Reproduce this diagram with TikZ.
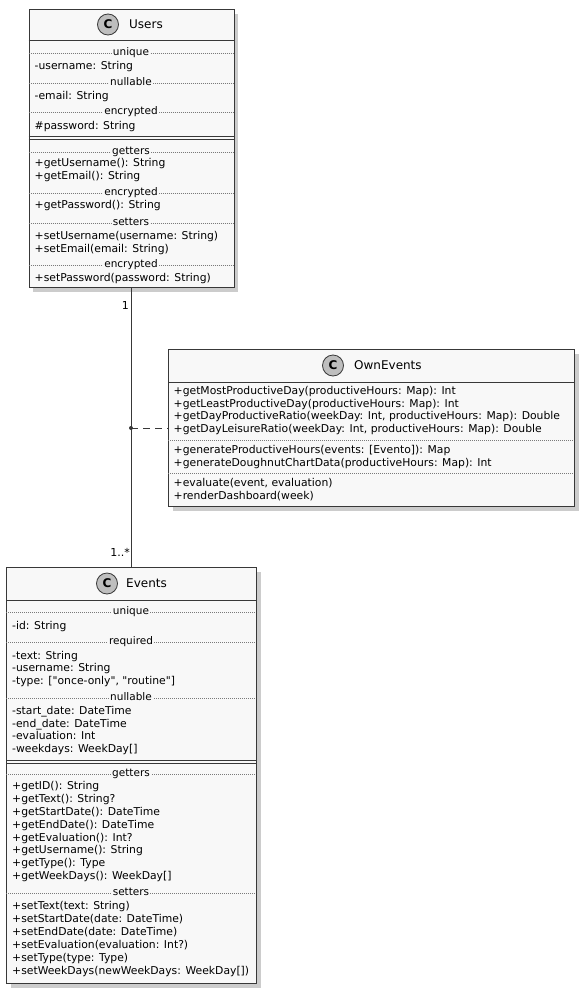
\documentclass[tikz,border=0pt]{standalone}
\usepackage{fontspec}
\setmainfont{DejaVu Sans}
\usetikzlibrary{shadows,positioning}
\definecolor{umlborder}{HTML}{383838}
\definecolor{umlfill}{HTML}{F8F8F8}
\definecolor{umlcircle}{HTML}{BEBEBE}
\definecolor{umlsep}{HTML}{7A7A7A}
\tikzset{
  classbox/.style={draw=umlborder,fill=umlfill,line width=1.2pt,anchor=north west,inner sep=0pt,drop shadow={shadow xshift=4pt,shadow yshift=-4pt,fill=black!40,opacity=.5}},
  classline/.style={draw=umlborder,line width=1pt},
  doubleline/.style={draw=umlborder,line width=.7pt},
  classicon/.style={circle,draw=umlborder,fill=umlcircle,line width=.8pt,minimum size=21pt,inner sep=0pt,font=\fontsize{12}{12}\selectfont\bfseries},
  classname/.style={anchor=west,inner sep=0pt,font=\fontsize{12}{14}\selectfont},
  member/.style={anchor=west,inner sep=0pt,text height=7.5pt,text depth=2pt,font=\fontsize{10.8}{13}\selectfont},
  sepline/.style={draw=umlsep,line width=.5pt,dash pattern=on 1pt off 1pt},
  seplabel/.style={fill=umlfill,inner xsep=1pt,inner ysep=0pt,text height=7.5pt,text depth=2pt,font=\fontsize{10.5}{12}\selectfont},
  assocline/.style={draw=umlborder,line width=1pt},
  assocdash/.style={draw=umlborder,line width=1pt,dash pattern=on 7pt off 5pt},
  mult/.style={anchor=east,inner sep=0pt,font=\fontsize{11}{13}\selectfont},
}
% separator: x1, x2, y, label, name
\newcommand{\umlsep}[5]{\draw[sepline] (#1,#3) -- (#2,#3); \node[seplabel] (#5) at ({(#1+#2)/2},#3) {#4};}
\begin{document}
\begin{tikzpicture}[x=1pt,y=-1pt]
\useasboundingbox (0,0) rectangle (584,990);

% Users
\node[classbox,minimum width=205pt,minimum height=278pt] (users) at (28.5,9) {};
\draw[classline] (28.5,41) -- (233.5,41);
\node[classicon] (users-icon) at (108,24.5) {C};
\node[classname] (users-name) at (129,24.5) {Users};
\umlsep{28.5}{233.5}{53}{unique}{users-s1}
\umlsep{28.5}{233.5}{83}{nullable}{users-s2}
\umlsep{28.5}{233.5}{112}{encrypted}{users-s3}
\foreach \n/\y/\t in {a1/67/{-username: String},a2/97/{-email: String},a3/127/{\#password: String}}
  \node[member] (users-\n) at (34.5,\y) {\t};
\draw[doubleline] (28.5,136.5) -- (233.5,136.5) (28.5,139) -- (233.5,139);
\umlsep{28.5}{233.5}{152}{getters}{users-s4}
\umlsep{28.5}{233.5}{193}{encrypted}{users-s5}
\umlsep{28.5}{233.5}{223}{setters}{users-s6}
\umlsep{28.5}{233.5}{265}{encrypted}{users-s7}
\foreach \n/\y/\t in {m1/164/{+getUsername(): String},m2/177/{+getEmail(): String},m3/206/{+getPassword(): String},m4/237/{+setUsername(username: String)},m5/249.5/{+setEmail(email: String)},m6/279/{+setPassword(password: String)}}
  \node[member] (users-\n) at (34.5,\y) {\t};

% OwnEvents
\node[classbox,minimum width=406pt,minimum height=157pt] (ownevents) at (168,349) {};
\draw[classline] (168,382) -- (574,382);
\node[classicon] (ownevents-icon) at (333,365.5) {C};
\node[classname] (ownevents-name) at (354,365.5) {OwnEvents};
\foreach \n/\y/\t in {m1/391.5/{+getMostProductiveDay(productiveHours: Map): Int},m2/404.3/{+getLeastProductiveDay(productiveHours: Map): Int},m3/417.1/{+getDayProductiveRatio(weekDay: Int, productiveHours: Map): Double},m4/429.9/{+getDayLeisureRatio(weekDay: Int, productiveHours: Map): Double},m5/450.5/{+generateProductiveHours(events: [Evento]): Map},m6/463.3/{+generateDoughnutChartData(productiveHours: Map): Int},m7/484/{+evaluate(event, evaluation)},m8/496.8/{+renderDashboard(week)}}
  \node[member] (ownevents-\n) at (173.5,\y) {\t};
\draw[sepline] (168,440) -- (574,440) (168,473) -- (574,473);

% Events
\node[classbox,minimum width=250pt,minimum height=416pt] (events) at (6,567) {};
\draw[classline] (6,600) -- (256,600);
\node[classicon] (events-icon) at (107,583.5) {C};
\node[classname] (events-name) at (126,583.5) {Events};
\umlsep{6}{256}{612}{unique}{events-s1}
\umlsep{6}{256}{642}{required}{events-s2}
\umlsep{6}{256}{698}{nullable}{events-s3}
\foreach \n/\y/\t in {a1/627/{-id: String},a2/657/{-text: String},a3/669/{-username: String},a4/681.5/{-type: [\textquotedbl once-only\textquotedbl, \textquotedbl routine\textquotedbl]},a5/712/{-start\_date: DateTime},a6/724.5/{-end\_date: DateTime},a7/737/{-evaluation: Int},a8/749.5/{-weekdays: WeekDay[]}}
  \node[member] (events-\n) at (12,\y) {\t};
\draw[doubleline] (6,760.5) -- (256,760.5) (6,763) -- (256,763);
\umlsep{6}{256}{774}{getters}{events-s4}
\umlsep{6}{256}{893}{setters}{events-s5}
\foreach \n/\y/\t in {m1/787/{+getID(): String},m2/800/{+getText(): String?},m3/812.5/{+getStartDate(): DateTime},m4/825.5/{+getEndDate(): DateTime},m5/838.5/{+getEvaluation(): Int?},m6/851/{+getUsername(): String},m7/864/{+getType(): Type},m8/877/{+getWeekDays(): WeekDay[]},m9/907/{+setText(text: String)},m10/920/{+setStartDate(date: DateTime)},m11/933/{+setEndDate(date: DateTime)},m12/946/{+setEvaluation(evaluation: Int?)},m13/958.5/{+setType(type: Type)},m14/971.5/{+setWeekDays(newWeekDays: WeekDay[])}}
  \node[member] (events-\n) at (12,\y) {\t};

% association
\draw[assocline] (users.south) -- (events.north);
\coordinate (assoc) at (131,428);
\fill[umlborder] (assoc) circle (2pt);
\draw[assocdash] (assoc) -- (ownevents.west |- assoc);
\node[mult] (users-mult) at (129,305) {1};
\node[mult] (events-mult) at (130,552) {1..*};
\end{tikzpicture}
\end{document}
